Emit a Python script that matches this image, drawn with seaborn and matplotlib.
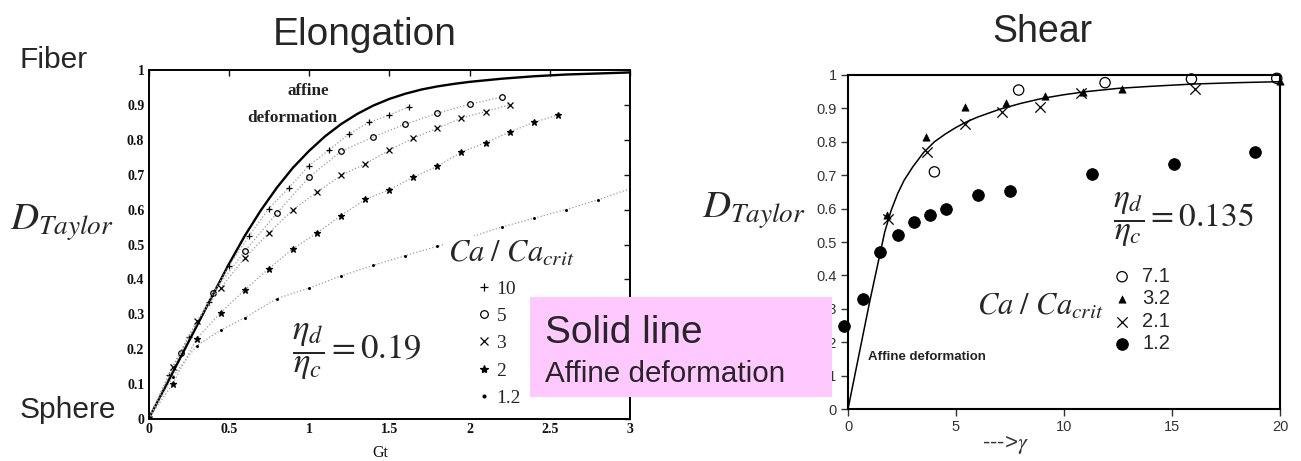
import matplotlib
matplotlib.use("Agg")
import matplotlib.pyplot as plt
import seaborn as sns
from matplotlib.lines import Line2D
from matplotlib.patches import Rectangle

# ---------------- data: Elongation panel ----------------
elong_affine_gt = [0, 0.1, 0.2, 0.3, 0.4, 0.5, 0.6, 0.7, 0.8, 0.9, 1.0, 1.1, 1.2, 1.3,
                   1.4, 1.5, 1.6, 1.7, 1.8, 1.9, 2.0, 2.2, 2.4, 2.6, 2.8, 3.0]
elong_affine_d = [0, 0.088, 0.177, 0.266, 0.355, 0.443, 0.525, 0.598, 0.663, 0.72, 0.768,
                  0.81, 0.845, 0.874, 0.898, 0.917, 0.932, 0.944, 0.953, 0.96, 0.966, 0.975,
                  0.982, 0.987, 0.99, 0.993]

ca10_gt = [0, 0.125, 0.25, 0.375, 0.5, 0.625, 0.75, 0.875, 1.0, 1.125, 1.25, 1.375, 1.5, 1.625]
ca10_d = [0, 0.125, 0.235, 0.335, 0.438, 0.524, 0.603, 0.663, 0.726, 0.771, 0.817, 0.85, 0.871, 0.895]

ca5_gt = [0, 0.2, 0.4, 0.6, 0.8, 1.0, 1.2, 1.4, 1.6, 1.8, 2.0, 2.2]
ca5_d = [0, 0.19, 0.36, 0.481, 0.59, 0.693, 0.767, 0.808, 0.845, 0.876, 0.902, 0.922]

ca3_gt = [0, 0.15, 0.3, 0.45, 0.6, 0.75, 0.9, 1.05, 1.2, 1.35, 1.5, 1.65, 1.8, 1.95, 2.1, 2.25]
ca3_d = [0, 0.15, 0.28, 0.375, 0.462, 0.533, 0.60, 0.65, 0.698, 0.731, 0.77, 0.805, 0.833,
         0.862, 0.881, 0.90]

ca2_gt = [0, 0.15, 0.3, 0.45, 0.6, 0.75, 0.9, 1.05, 1.2, 1.35, 1.5, 1.65, 1.8, 1.95, 2.1,
          2.25, 2.4, 2.55]
ca2_d = [0, 0.10, 0.23, 0.305, 0.37, 0.431, 0.488, 0.533, 0.583, 0.629, 0.657, 0.693, 0.724,
         0.765, 0.792, 0.822, 0.85, 0.871]

ca12_gt = [0, 0.15, 0.3, 0.45, 0.6, 0.8, 1.0, 1.2, 1.4, 1.6, 1.8, 2.0, 2.2, 2.4, 2.6, 2.8, 3.0]
ca12_d = [0, 0.12, 0.21, 0.255, 0.29, 0.345, 0.375, 0.41, 0.44, 0.468, 0.495, 0.52, 0.55,
          0.575, 0.60, 0.628, 0.66]

elong_labels = ["10", "5", "3", "2", "1.2"]
elong_xticks = [0, 0.5, 1, 1.5, 2, 2.5, 3]
elong_xticklabels = ["0", "0.5", "1", "1.5", "2", "2.5", "3"]
unit_yticks = [0, 0.1, 0.2, 0.3, 0.4, 0.5, 0.6, 0.7, 0.8, 0.9, 1.0]
unit_yticklabels = ["0", "0.1", "0.2", "0.3", "0.4", "0.5", "0.6", "0.7", "0.8", "0.9", "1"]

# ---------------- data: Shear panel ----------------
shear_affine_g = [0, 0.5, 1.0, 1.4, 1.7, 2.0, 2.3, 2.6, 3.0, 3.5, 4.0, 4.5, 5.0, 5.5, 6.0,
                  7.0, 8.0, 9.0, 10, 11, 12.5, 14, 16, 18, 20]
shear_affine_d = [0, 0.16, 0.32, 0.44, 0.53, 0.595, 0.645, 0.685, 0.725, 0.768, 0.80, 0.823,
                  0.843, 0.86, 0.874, 0.897, 0.915, 0.93, 0.941, 0.95, 0.96, 0.966, 0.973,
                  0.977, 0.98]

s71_g = [4.0, 7.9, 11.9, 15.9, 19.85]
s71_d = [0.71, 0.955, 0.977, 0.988, 0.99]
s32_g = [1.8, 3.6, 5.4, 7.3, 9.1, 10.9, 12.7, 20.0]
s32_d = [0.58, 0.813, 0.905, 0.917, 0.938, 0.95, 0.958, 0.983]
s21_g = [1.85, 3.65, 5.4, 7.15, 8.9, 10.8, 16.05]
s21_d = [0.57, 0.77, 0.853, 0.89, 0.905, 0.947, 0.958]
s12_g = [-0.2, 0.7, 1.5, 2.3, 3.05, 3.8, 4.55, 6.0, 7.5, 11.3, 15.1, 18.85]
s12_d = [0.25, 0.33, 0.47, 0.52, 0.56, 0.58, 0.60, 0.64, 0.653, 0.705, 0.735, 0.768]

shear_labels = ["7.1", "3.2", "2.1", "1.2"]
shear_xticks = [0, 5, 10, 15, 20]

# ---------------- style ----------------
sns.set_theme(style="white")
plt.rcParams["font.family"] = ["Liberation Sans", "DejaVu Sans"]
plt.rcParams["mathtext.fontset"] = "stix"

W, H = 1301, 461
fig = plt.figure(figsize=(W / 100, H / 100), dpi=100)
fig.patch.set_facecolor("white")


def fx(px):
    return px / W


def fy(py):
    return 1 - py / H


SERIF = ["Liberation Serif", "DejaVu Serif"]

# ---------------- Elongation axes ----------------
axL = fig.add_axes([fx(148.5), fy(419), (630 - 148.5) / W, (419 - 70) / H])
sns.lineplot(x=elong_affine_gt, y=elong_affine_d, ax=axL, color="black", lw=1.7,
             estimator=None, sort=False)

elong_series = [
    (ca10_gt, ca10_d, "+", 4.5, "black"),
    (ca5_gt, ca5_d, "o", 4.0, "none"),
    (ca3_gt, ca3_d, "x", 4.0, "black"),
    (ca2_gt, ca2_d, "*", 4.5, "black"),
    (ca12_gt, ca12_d, ".", 2.5, "black"),
]
legend_handles_L = []
for gt, d, mk, ms, mfc in elong_series:
    sns.lineplot(x=gt, y=d, ax=axL, color="#9a9a9a", lw=0.9, linestyle=":",
                 estimator=None, sort=False, marker=mk, markersize=ms,
                 markerfacecolor=mfc, markeredgecolor="black", markeredgewidth=0.9)
    legend_handles_L.append(Line2D([], [], linestyle="none", marker=mk, markersize=ms + 1.5,
                                   markerfacecolor=mfc, markeredgecolor="black",
                                   markeredgewidth=0.9))

axL.set_xlim(0, 3)
axL.set_ylim(0, 1)
axL.set_xticks(elong_xticks)
axL.set_xticklabels(elong_xticklabels)
axL.set_yticks(unit_yticks)
axL.set_yticklabels(unit_yticklabels)
for lab in axL.get_xticklabels() + axL.get_yticklabels():
    lab.set_fontfamily(SERIF)
    lab.set_fontweight("bold")
    lab.set_fontsize(10)
    lab.set_color("#111111")
axL.tick_params(direction="in", top=True, right=True, length=4, width=1, pad=3,
                colors="#111111")
for sp in axL.spines.values():
    sp.set_color("black")
    sp.set_linewidth(1.4)
axL.set_xlabel("Gt", fontfamily=SERIF, fontsize=11.5, color="#111111")
axL.xaxis.set_label_coords((380 - 148.5) / 481.5, (419 - 453) / 349)
axL.xaxis.label.set_va("center")
axL.set_ylabel("")

legL = axL.legend(legend_handles_L, elong_labels, loc="upper left",
                  bbox_to_anchor=(fx(478), fy(280)), bbox_transform=fig.transFigure,
                  frameon=False, prop={"family": SERIF, "size": 14},
                  handlelength=0.6, handletextpad=0.35, labelspacing=0.5,
                  borderaxespad=0, borderpad=0)

# ---------------- Shear axes ----------------
axR = fig.add_axes([fx(848), fy(409), (1280 - 848) / W, (409 - 75) / H])
sns.lineplot(x=shear_affine_g, y=shear_affine_d, ax=axR, color="black", lw=1.1,
             estimator=None, sort=False)
sns.scatterplot(x=s71_g, y=s71_d, ax=axR, marker="o", s=55, facecolors="none",
                edgecolor="black", linewidth=0.9, label=shear_labels[0], clip_on=False,
                zorder=4)
sns.scatterplot(x=s32_g, y=s32_d, ax=axR, marker="^", s=28, color="black",
                edgecolor="black", label=shear_labels[1], clip_on=False, zorder=4)
sns.scatterplot(x=s21_g, y=s21_d, ax=axR, marker="x", s=55, color="black",
                linewidth=0.9, label=shear_labels[2], clip_on=False, zorder=4)
sns.scatterplot(x=s12_g, y=s12_d, ax=axR, marker="o", s=70, color="black",
                edgecolor="black", label=shear_labels[3], clip_on=False, zorder=4)

axR.set_xlim(0, 20)
axR.set_ylim(0, 1)
axR.set_xticks(shear_xticks)
axR.set_xticklabels([str(v) for v in shear_xticks])
axR.set_yticks(unit_yticks)
axR.set_yticklabels(unit_yticklabels)
axR.tick_params(direction="out", left=True, bottom=True, top=False, right=False,
                length=5, width=1, pad=3, labelsize=10.5, colors="#333333")
for sp in axR.spines.values():
    sp.set_color("black")
    sp.set_linewidth(1.5)
axR.set_xlabel(r"--->$\gamma$", fontsize=16, color="#333333")
axR.xaxis.set_label_coords((1005 - 848) / 432, (409 - 445) / 334)
axR.xaxis.label.set_va("center")
axR.set_ylabel("")
legR = axR.legend(loc="upper left", bbox_to_anchor=(fx(1112), fy(267)),
                  bbox_transform=fig.transFigure, frameon=False, fontsize=14.5,
                  handlelength=1.0, handletextpad=0.5, labelspacing=0.17,
                  borderaxespad=0, borderpad=0)

# ---------------- annotations ----------------
fig.text(fx(273), fy(45), "Elongation", fontsize=28, va="baseline")
fig.text(fx(992), fy(42), "Shear", fontsize=27, va="baseline")
fig.text(fx(20), fy(68), "Fiber", fontsize=21.5, va="baseline")
fig.text(fx(20), fy(418), "Sphere", fontsize=21.5, va="baseline")
fig.text(fx(10), fy(230), r"$D_{Taylor}$", fontsize=28, va="baseline")
fig.text(fx(702), fy(218), r"$D_{Taylor}$", fontsize=28, va="baseline")

fig.text(fx(288), fy(95), "affine", fontfamily=SERIF, fontweight="bold", fontsize=12.3,
         va="baseline", color="#222222")
fig.text(fx(247), fy(122), "deformation", fontfamily=SERIF, fontweight="bold",
         fontsize=12.3, va="baseline", color="#222222")

fig.text(fx(448), fy(262), r"$Ca\ /\ Ca_{crit}$", fontsize=22, va="baseline",
         bbox=dict(facecolor="white", edgecolor="none", pad=2))
fig.text(fx(977), fy(315), r"$Ca\ /\ Ca_{crit}$", fontsize=22, va="baseline")

fig.text(fx(292), fy(352), r"$\dfrac{\eta_d}{\eta_c}=0.19$", fontsize=25, va="center")
fig.text(fx(1113), fy(220), r"$\dfrac{\eta_d}{\eta_c}=0.135$", fontsize=24, va="center")

fig.text(fx(868), fy(360), "Affine deformation", fontsize=9.5, fontweight="bold",
         va="baseline", color="#222222")

box = Rectangle((fx(530), fy(397)), (832 - 530) / W, (397 - 297) / H,
                transform=fig.transFigure, facecolor="#FFC9FF", edgecolor="none", zorder=5)
fig.add_artist(box)
fig.text(fx(545), fy(343), "Solid line", fontsize=28, va="baseline", zorder=6)
fig.text(fx(545), fy(382), "Affine deformation", fontsize=21.3, va="baseline", zorder=6)

fig.savefig("out.png", dpi=100, facecolor="white")
